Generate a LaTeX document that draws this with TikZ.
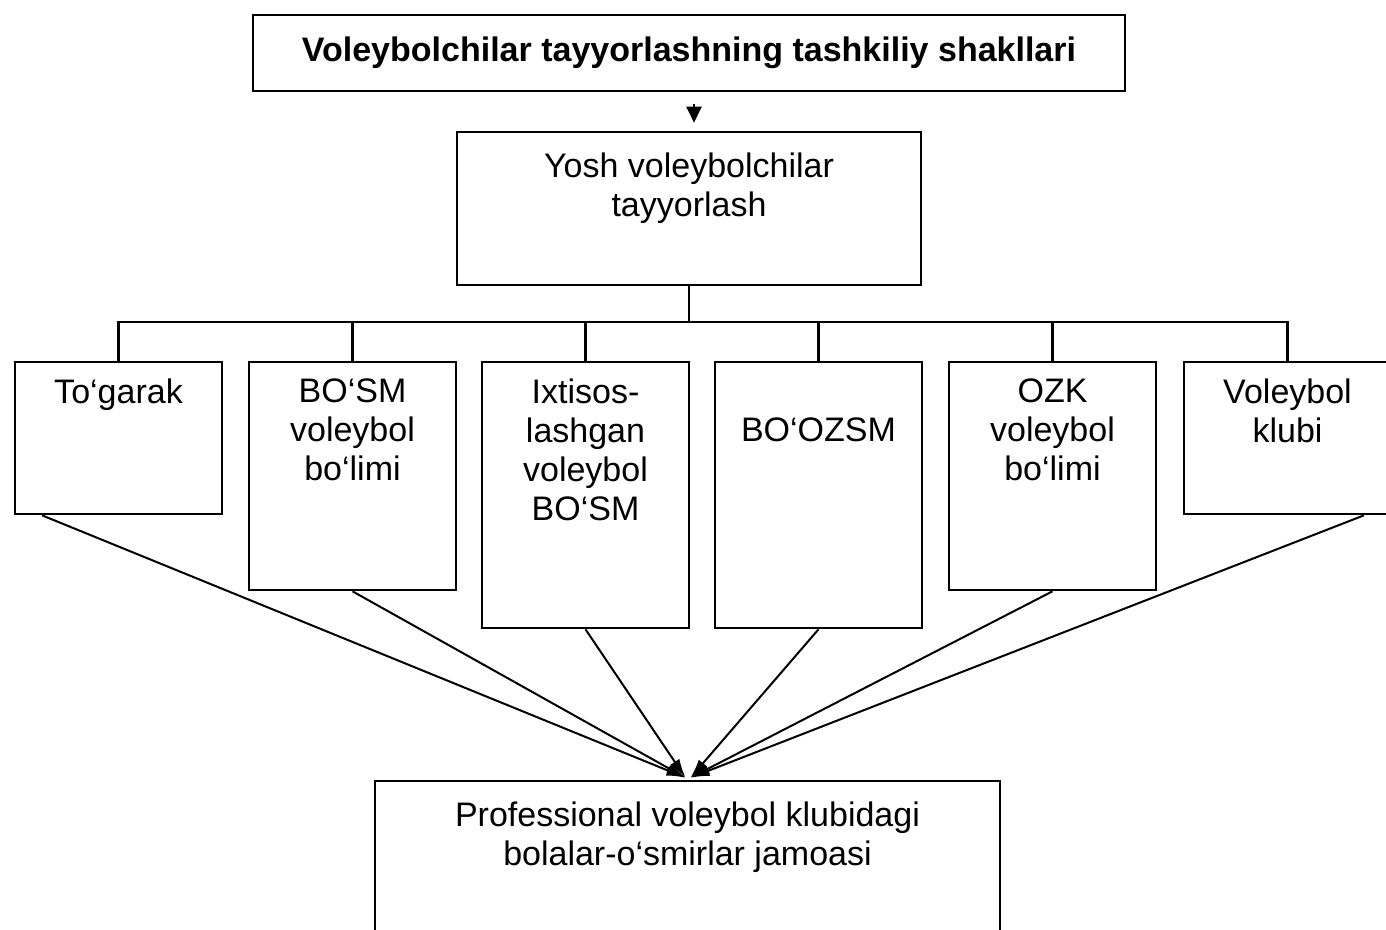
\documentclass[tikz,border=0pt]{standalone}
\usepackage{fontspec}
\setmainfont{Liberation Sans}
\usetikzlibrary{arrows.meta,calc}
\begin{document}
\begin{tikzpicture}[x=1pt,y=-1pt,
  box/.style={draw,line width=2.6pt,inner sep=0pt,minimum width=207pt},
  lbl/.style={anchor=north,inner sep=0pt,align=center,font=\fontsize{34}{39}\selectfont},
  link/.style={line width=2.4pt},
  conv/.style={line width=2pt,-{Latex[length=19pt,width=11pt]}},
  toparrow/.style={line width=2.4pt,-{Triangle[length=16pt,width=15pt]}}
]
\useasboundingbox (0,0) rectangle (1386,929);
\clip (0,0) rectangle (1386,929);
\fill[white] (0,0) rectangle (1386,929);

\node[box,minimum width=872pt,minimum height=76pt,font=\bfseries\fontsize{34}{39}\selectfont] (top) at (689,53) {Voleybolchilar tayyorlashning tashkiliy shakllari};
\node[box,minimum width=464pt,minimum height=153pt] (mid) at (689,208.5) {};
\node[lbl] (midt) at (689,153) {Yosh voleybolchilar\\tayyorlash};

\node[box,minimum height=152pt] (b1) at (118.5,438) {};
\node[box,minimum height=228pt] (b2) at (352.5,476) {};
\node[box,minimum height=266pt] (b3) at (585.5,495) {};
\node[box,minimum height=266pt] (b4) at (818.5,495) {};
\node[box,minimum height=228pt] (b5) at (1052.5,476) {};
\node[box,minimum height=152pt] (b6) at (1287.5,438) {};
\node[box,minimum width=625pt,minimum height=220pt] (bot) at (687.5,891) {};

\node[lbl] (t1) at ($(b1.north)+(0,18)$) {To‘garak};
\node[lbl] (t2) at ($(b2.north)+(0,18)$) {BO‘SM\\voleybol\\bo‘limi};
\node[lbl] (t3) at ($(b3.north)+(0,18)$) {Ixtisos-\\lashgan\\voleybol\\BO‘SM};
\node[lbl] (t4) at ($(b4.north)+(0,57)$) {BO‘OZSM};
\node[lbl] (t5) at ($(b5.north)+(0,18)$) {OZK\\voleybol\\bo‘limi};
\node[lbl] (t6) at ($(b6.north)+(0,18)$) {Voleybol\\klubi};
\node[lbl] (tb) at ($(bot.north)+(0,22)$) {Professional voleybol klubidagi\\bolalar-o‘smirlar jamoasi};

\draw[toparrow] ($(top.south)+(5,12)$) -- ($(mid.north)+(5,-8)$);

\coordinate (bus) at (0,322);
\draw[link] (mid.south) -- (mid.south |- bus);
\draw[link] (b1.north) -- (b1.north |- bus) -- (b6.north |- bus) -- (b6.north);
\foreach \b in {b2,b3,b4,b5} \draw[link] (\b.north) -- (\b.north |- bus);

\coordinate (L) at ($(bot.north)+(-2,-2)$);
\coordinate (R) at ($(bot.north)+(3,-2)$);
\draw[conv] ($(b1.south west)!0.135!(b1.south east)$) -- (L);
\draw[conv] (b2.south) -- (L);
\draw[conv] (b3.south) -- (L);
\draw[conv] (b4.south) -- (R);
\draw[conv] (b5.south) -- (R);
\draw[conv] ($(b6.south west)!0.865!(b6.south east)$) -- (R);
\end{tikzpicture}
\end{document}
